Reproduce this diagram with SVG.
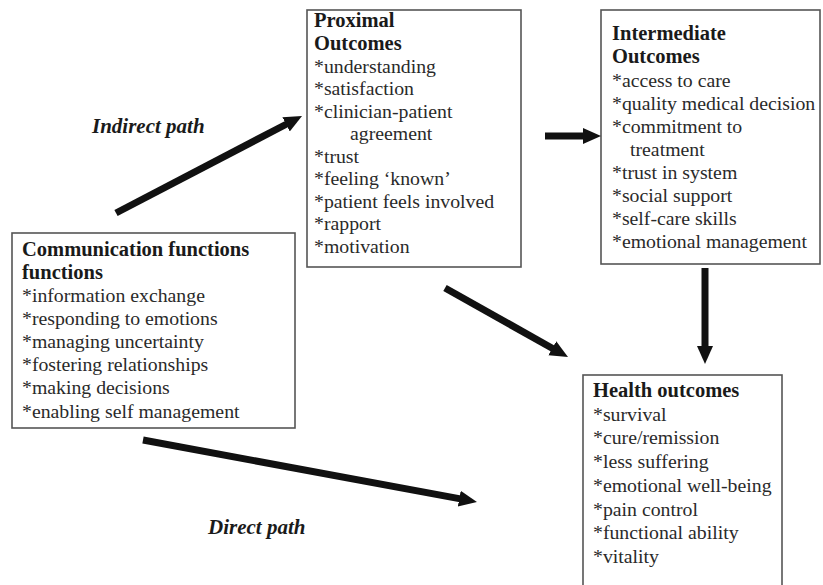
<svg xmlns="http://www.w3.org/2000/svg" width="823" height="585" viewBox="0 0 823 585">
<defs>
<style>
.box{fill:#fff;stroke:#555;stroke-width:1.6}
.t{font-family:"Liberation Serif",serif;font-size:19.8px;fill:#2a2a2a}
.h{font-family:"Liberation Serif",serif;font-size:20.5px;font-weight:bold;fill:#1a1a1a}
.lbl{font-family:"Liberation Serif",serif;font-size:21px;font-weight:bold;font-style:italic;fill:#1a1a1a}
.arr{stroke:#111;stroke-width:7;fill:none;marker-end:url(#ah)}
</style>
<marker id="ah" markerUnits="userSpaceOnUse" markerWidth="20" markerHeight="18" refX="4" refY="8" orient="auto">
<path d="M0,0 L18,8 L0,16 z" fill="#111"/>
</marker>
</defs>
<rect width="823" height="585" fill="#fff"/>
<g id="communication">
<rect class="box" x="12" y="233" width="283" height="195"/>
<text class="h" x="22" y="256">Communication functions</text>
<text class="h" x="22" y="279">functions</text>
<text class="t" x="22" y="302">*information exchange</text>
<text class="t" x="22" y="325">*responding to emotions</text>
<text class="t" x="22" y="348">*managing uncertainty</text>
<text class="t" x="22" y="371">*fostering relationships</text>
<text class="t" x="22" y="394">*making decisions</text>
<text class="t" x="22" y="418">*enabling self management</text>
</g>
<g id="proximal">
<rect class="box" x="307" y="10" width="214" height="257"/>
<text class="h" x="314" y="27">Proximal</text>
<text class="h" x="314" y="50">Outcomes</text>
<text class="t" x="314" y="73">*understanding</text>
<text class="t" x="314" y="95">*satisfaction</text>
<text class="t" x="314" y="118">*clinician-patient</text>
<text class="t" x="350" y="140">agreement</text>
<text class="t" x="314" y="163">*trust</text>
<text class="t" x="314" y="185">*feeling ‘known’</text>
<text class="t" x="314" y="208">*patient feels involved</text>
<text class="t" x="314" y="230">*rapport</text>
<text class="t" x="314" y="253">*motivation</text>
</g>
<g id="intermediate">
<rect class="box" x="601" y="10" width="219" height="254"/>
<text class="h" x="612" y="40">Intermediate</text>
<text class="h" x="612" y="63">Outcomes</text>
<text class="t" x="612" y="87">*access to care</text>
<text class="t" x="612" y="110">*quality medical decision</text>
<text class="t" x="612" y="133">*commitment to</text>
<text class="t" x="630" y="156">treatment</text>
<text class="t" x="612" y="179">*trust in system</text>
<text class="t" x="612" y="202">*social support</text>
<text class="t" x="612" y="225">*self-care skills</text>
<text class="t" x="612" y="248">*emotional management</text>
</g>
<g id="health">
<rect class="box" x="583" y="375" width="199" height="220"/>
<text class="h" x="593" y="397">Health outcomes</text>
<text class="t" x="593" y="421">*survival</text>
<text class="t" x="593" y="444">*cure/remission</text>
<text class="t" x="593" y="468">*less suffering</text>
<text class="t" x="593" y="492">*emotional well-being</text>
<text class="t" x="593" y="516">*pain control</text>
<text class="t" x="593" y="539">*functional ability</text>
<text class="t" x="593" y="563">*vitality</text>
</g>
<g id="connectors">
<line class="arr" x1="116" y1="213" x2="289.6" y2="122.5"/>
<line class="arr" x1="545" y1="136" x2="587" y2="136"/>
<line class="arr" x1="705" y1="268" x2="705" y2="350"/>
<line class="arr" x1="445" y1="288" x2="555.8" y2="350.2"/>
<line class="arr" x1="143" y1="440" x2="463.2" y2="499.4"/>
</g>
<g id="labels">
<text class="lbl" x="92" y="133">Indirect path</text>
<text class="lbl" x="208" y="534">Direct path</text>
</g>
</svg>
